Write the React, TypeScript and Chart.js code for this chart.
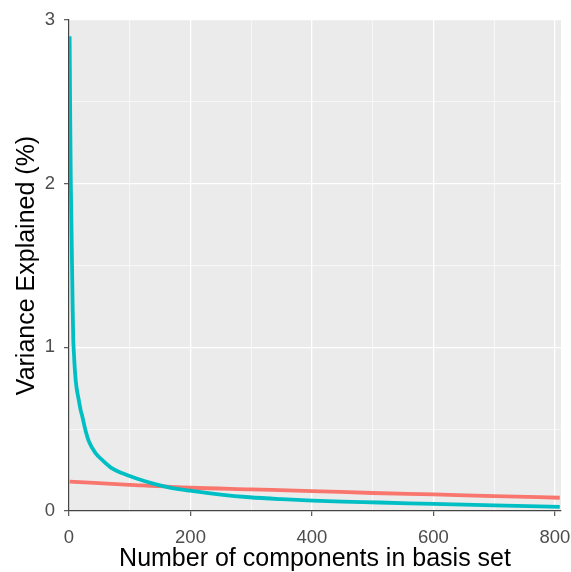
import React, { useEffect, useRef } from "react";
import { Chart, registerables } from "chart.js";

Chart.register(...registerables);

// Number of components (x) and variance explained (%) for each series
const cyanX = [1, 2, 3, 4, 5, 6, 7, 8, 9, 11, 13, 16, 19, 22, 27, 33, 44, 55, 71, 88, 110, 137, 164, 199, 250, 297, 350, 401, 450, 511, 600, 700, 808];
const cyanY = [2.9, 2.4, 2.0, 1.75, 1.5, 1.25, 1.05, 0.97, 0.9, 0.8, 0.74, 0.68, 0.62, 0.576, 0.495, 0.423, 0.352, 0.311, 0.26, 0.23, 0.2, 0.169, 0.145, 0.124, 0.1, 0.084, 0.072, 0.063, 0.057, 0.052, 0.043, 0.034, 0.025];

const redX = [1, 100, 200, 300, 400, 500, 600, 700, 808];
const redY = [0.18, 0.16, 0.142, 0.132, 0.122, 0.11, 0.101, 0.091, 0.081];

const xTickLabels = [0, 200, 400, 600, 800];
const xMinorTicks = [100, 300, 500, 700];
const yTickLabels = [0, 1, 2, 3];
const yMinorTicks = [0.5, 1.5, 2.5];

const xTitle = "Number of components in basis set";
const yTitle = "Variance Explained (%)";

const FONT = "'Liberation Sans', Arial, Helvetica, sans-serif";

const panelBg = {
  id: "panelBg",
  beforeDraw(chart: any) {
    const { ctx, chartArea: a } = chart;
    ctx.save();
    ctx.fillStyle = "#EBEBEB";
    ctx.fillRect(a.left, a.top, a.right - a.left, a.bottom - a.top);
    ctx.restore();
  },
};

export default function App() {
  const ref = useRef<HTMLCanvasElement | null>(null);

  useEffect(() => {
    if (!ref.current) return;
    const toPts = (xs: number[], ys: number[]) => xs.map((x, i) => ({ x, y: ys[i] }));
    const isMajorX = (v: number) => xTickLabels.includes(v);
    const isMajorY = (v: number) => yTickLabels.includes(v);
    const allX = [...xTickLabels, ...xMinorTicks].sort((a, b) => a - b);
    const allY = [...yTickLabels, ...yMinorTicks].sort((a, b) => a - b);

    const chart = new Chart(ref.current, {
      type: "line",
      data: {
        datasets: [
          {
            data: toPts(cyanX, cyanY),
            borderColor: "#00BFC4",
            borderWidth: 3.8,
            pointRadius: 0,
            cubicInterpolationMode: "monotone",
            fill: false,
          },
          {
            data: toPts(redX, redY),
            borderColor: "#F8766D",
            borderWidth: 3.8,
            pointRadius: 0,
            cubicInterpolationMode: "monotone",
            fill: false,
          },
        ],
      },
      options: {
        animation: false,
        responsive: false,
        events: [],
        layout: { padding: { top: 20, right: 10, left: 0, bottom: 0 } },
        plugins: { legend: { display: false }, tooltip: { enabled: false } },
        scales: {
          x: {
            type: "linear",
            min: 0,
            max: 810,
            afterBuildTicks(scale: any) {
              scale.ticks = allX.map((v) => ({ value: v }));
            },
            afterFit(scale: any) {
              scale.height = 61;
              scale.paddingLeft = 0;
              scale.paddingRight = 0;
            },
            border: { display: true, color: "#444", width: 1.2 },
            grid: {
              color: "#FFFFFF",
              lineWidth: (c: any) => (isMajorX(c.tick.value) ? 1.3 : 0.6),
              tickColor: (c: any) => (isMajorX(c.tick.value) ? "#555" : "rgba(0,0,0,0)"),
              tickLength: 5,
              tickWidth: 1.2,
            },
            ticks: {
              autoSkip: false,
              maxRotation: 0,
              padding: 10.5,
              color: "#4D4D4D",
              font: { family: FONT, size: 18.5 },
              callback: (v: any) => (isMajorX(Number(v)) ? String(v) : ""),
            },
            title: {
              display: true,
              text: xTitle,
              color: "#000",
              font: { family: FONT, size: 25, lineHeight: 1 },
              padding: { top: 0, bottom: 0 },
            },
          },
          y: {
            type: "linear",
            min: 0,
            max: 3,
            afterBuildTicks(scale: any) {
              scale.ticks = allY.map((v) => ({ value: v }));
            },
            afterFit(scale: any) {
              scale.width = 69;
              scale.paddingTop = 0;
              scale.paddingBottom = 0;
            },
            border: { display: true, color: "#444", width: 1.2 },
            grid: {
              color: "#FFFFFF",
              lineWidth: (c: any) => (isMajorY(c.tick.value) ? 1.3 : 0.6),
              tickColor: (c: any) => (isMajorY(c.tick.value) ? "#555" : "rgba(0,0,0,0)"),
              tickLength: 5,
              tickWidth: 1.2,
            },
            ticks: {
              autoSkip: false,
              padding: 9,
              color: "#4D4D4D",
              font: { family: FONT, size: 18.5 },
              callback: (v: any) => (isMajorY(Number(v)) ? String(v) : ""),
            },
            title: {
              display: true,
              text: yTitle,
              color: "#000",
              font: { family: FONT, size: 25, lineHeight: 1 },
              padding: { top: 15, bottom: 0 },
            },
          },
        },
      },
      plugins: [panelBg],
    } as any);

    return () => chart.destroy();
  }, []);

  return (
    <div style={{ position: "fixed", left: 0, top: 0, width: 571, height: 572, background: "#fff" }}>
      <canvas ref={ref} width={571} height={572} style={{ display: "block" }} />
    </div>
  );
}
